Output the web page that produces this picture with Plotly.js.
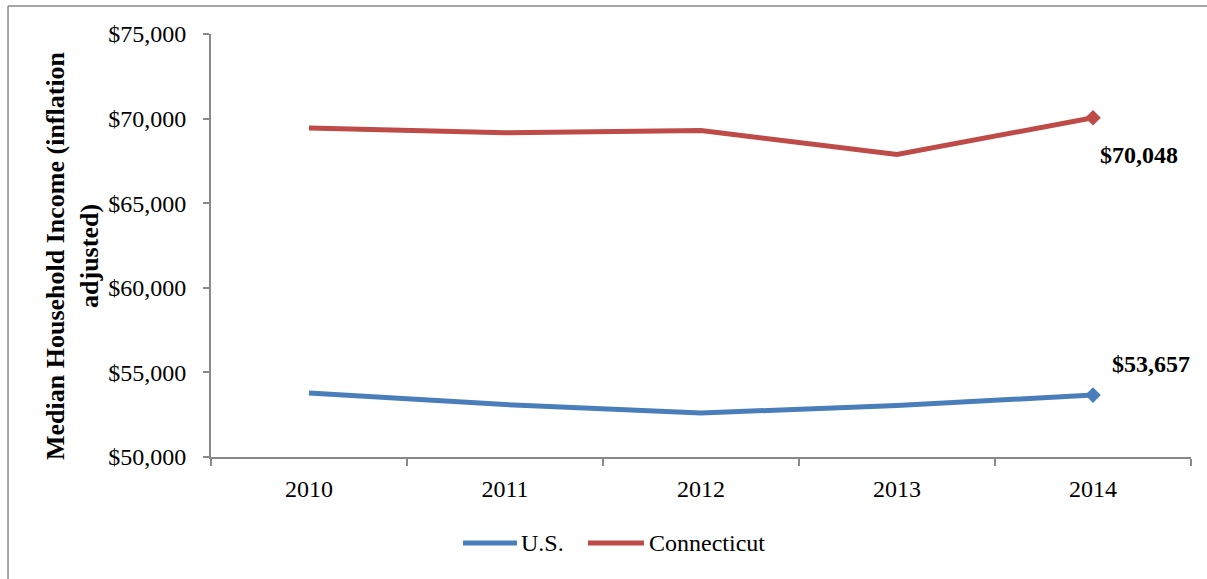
<!DOCTYPE html>
<html>
<head>
<meta charset="utf-8">
<script src="https://cdn.plot.ly/plotly-3.0.1.min.js"></script>
<style>
  html, body { margin: 0; padding: 0; background: #fff; }
  #chart { width: 1207px; height: 579px; }
</style>
</head>
<body>
<div id="chart"></div>
<script>
// Median household income, inflation adjusted
const years = ['2010', '2011', '2012', '2013', '2014'];
const usIncome = [53780, 53100, 52600, 53050, 53657];
const ctIncome = [69450, 69160, 69300, 67880, 70048];
const seriesNames = ['U.S.', 'Connecticut'];
const seriesColors = ['#4a7ebb', '#be4b48'];
const yTickVals = [50000, 55000, 60000, 65000, 70000, 75000];
const yTitle = 'Median Household Income (inflation<br>adjusted)';

const FONT = 'Liberation Serif, Times New Roman, serif';
const AXIS_GREY = '#898989';

function money(v) {
  return '$' + v.toLocaleString('en-US');
}

// Only the latest year carries a diamond marker
function lastOnly(n, size) {
  return Array.from({ length: n }, (_, i) => (i === n - 1 ? size : 0));
}

const traces = [usIncome, ctIncome].map((vals, k) => ({
  type: 'scatter',
  mode: 'lines+markers',
  name: seriesNames[k],
  x: years,
  y: vals,
  line: { color: seriesColors[k], width: 5 },
  marker: {
    symbol: 'diamond',
    color: seriesColors[k],
    opacity: 1,
    size: lastOnly(vals.length, 12),
    line: { width: 0 }
  },
  showlegend: false,
  hoverinfo: 'x+y'
}));

// End-of-series value labels (category index of the last year)
const last = years.length - 1;
const valueLabels = [
  { y: ctIncome[last], text: money(ctIncome[last]), xshift: 46, yshift: -37 },
  { y: usIncome[last], text: money(usIncome[last]), xshift: 58, yshift: 31 }
].map(a => ({
  xref: 'x', yref: 'y', x: last, y: a.y,
  xshift: a.xshift, yshift: a.yshift,
  showarrow: false,
  text: '<b>' + a.text + '</b>',
  font: { family: FONT, size: 24, color: '#000' },
  xanchor: 'center', yanchor: 'middle'
}));

// Rotated axis title
const titleLabel = {
  xref: 'paper', yref: 'paper', x: -0.1408, y: 0.4752,
  xanchor: 'center', yanchor: 'middle', showarrow: false,
  textangle: -90,
  text: '<b>' + yTitle + '</b>',
  font: { family: FONT, size: 26, color: '#000' }
};

// Legend drawn below the axis: a short line sample followed by the series name
const legendY = -0.2033;
const legendItems = [
  { x0: 0.2571, x1: 0.3122, tx: 0.3143 },
  { x0: 0.3847, x1: 0.4418, tx: 0.4449 }
];
const legendShapes = legendItems.map((it, k) => ({
  type: 'line', xref: 'paper', yref: 'paper',
  x0: it.x0, x1: it.x1, y0: legendY, y1: legendY,
  line: { color: seriesColors[k], width: 5 }
}));
const legendLabels = legendItems.map((it, k) => ({
  xref: 'paper', yref: 'paper', x: it.tx, y: legendY,
  xanchor: 'left', yanchor: 'middle', showarrow: false,
  text: seriesNames[k],
  font: { family: FONT, size: 24, color: '#000' }
}));

// Frame lines around the figure panel (top and left edges)
const frameShapes = [
  { type: 'line', xref: 'paper', yref: 'paper', x0: -0.2071, x1: 1.02, y0: 1.0662, y1: 1.0662,
    line: { color: AXIS_GREY, width: 1.5 } },
  { type: 'line', xref: 'paper', yref: 'paper', x0: -0.2071, x1: -0.2071, y0: 1.0662, y1: -0.3,
    line: { color: AXIS_GREY, width: 1.5 } }
];

const layout = {
  width: 1207,
  height: 579,
  paper_bgcolor: '#fff',
  plot_bgcolor: '#fff',
  margin: { l: 211, r: 16, t: 34, b: 122 },
  font: { family: FONT, size: 24, color: '#000' },
  showlegend: false,
  xaxis: {
    type: 'category',
    range: [-0.5, 4.5],
    tickson: 'boundaries',
    ticks: 'outside',
    ticklen: 7,
    tickwidth: 2,
    tickcolor: AXIS_GREY,
    showline: true,
    linecolor: AXIS_GREY,
    linewidth: 2,
    showgrid: false,
    zeroline: false,
    ticklabelstandoff: 9,
    tickfont: { family: FONT, size: 24, color: '#000' },
    fixedrange: true
  },
  yaxis: {
    range: [50000, 75000],
    tickvals: yTickVals,
    ticktext: yTickVals.map(money),
    ticks: 'outside',
    ticklen: 6,
    tickwidth: 2,
    tickcolor: AXIS_GREY,
    showline: true,
    linecolor: AXIS_GREY,
    linewidth: 2,
    showgrid: false,
    zeroline: false,
    ticklabelstandoff: 12,
    tickfont: { family: FONT, size: 24, color: '#000' },
    automargin: false,
    fixedrange: true
  },
  shapes: legendShapes.concat(frameShapes),
  annotations: valueLabels.concat(legendLabels, [titleLabel])
};

Plotly.newPlot('chart', traces, layout, { displayModeBar: false, staticPlot: true });
</script>
</body>
</html>
